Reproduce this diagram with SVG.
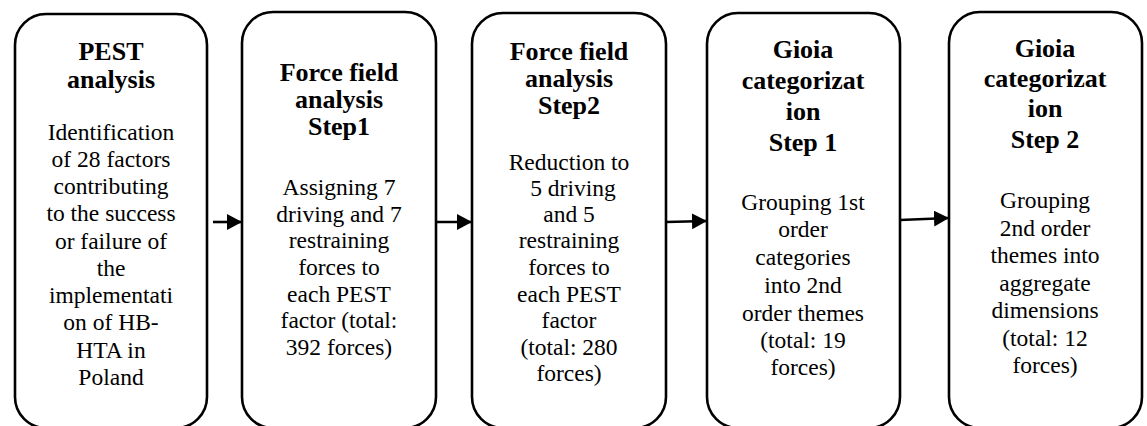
<svg xmlns="http://www.w3.org/2000/svg" width="1147" height="426" viewBox="0 0 1147 426">
<style>
.box{fill:#fff;stroke:#000;stroke-width:2.6}
.t{font-family:"Liberation Serif","Times New Roman",serif;font-weight:bold;font-size:26px;text-anchor:middle;fill:#000}
.b{font-family:"Liberation Serif","Times New Roman",serif;font-size:23.5px;text-anchor:middle;fill:#000}
.c{stroke:#000;stroke-width:2.6;fill:none}
</style>
<defs>
<marker id="ah" markerUnits="userSpaceOnUse" markerWidth="16" markerHeight="18" refX="15" refY="8" orient="auto">
<path d="M0,0 L15,8 L0,16 Z" fill="#000"/>
</marker>
</defs>
<rect width="1147" height="426" fill="#fff"/>
<g id="connectors">
<line class="c" x1="213" y1="222" x2="242" y2="222" marker-end="url(#ah)"/>
<line class="c" x1="437" y1="222" x2="472" y2="222" marker-end="url(#ah)"/>
<line class="c" x1="666" y1="222" x2="707" y2="221" marker-end="url(#ah)"/>
<line class="c" x1="900" y1="220" x2="949" y2="218" marker-end="url(#ah)"/>
</g>
<g id="node1">
<rect class="box" x="15" y="14" width="192" height="414" rx="31" ry="31"/>
<text class="t" x="111" y="60">PEST</text>
<text class="t" x="111" y="88">analysis</text>
<text class="b" x="111" y="140">Identification</text>
<text class="b" x="111" y="167">of 28 factors</text>
<text class="b" x="111" y="194">contributing</text>
<text class="b" x="111" y="221">to the success</text>
<text class="b" x="111" y="249">or failure of</text>
<text class="b" x="111" y="276">the</text>
<text class="b" x="111" y="303">implementati</text>
<text class="b" x="111" y="330">on of HB-</text>
<text class="b" x="111" y="358">HTA in</text>
<text class="b" x="111" y="385">Poland</text>
</g>
<g id="node2">
<rect class="box" x="242" y="12" width="194" height="416" rx="31" ry="31"/>
<text class="t" x="339" y="81">Force field</text>
<text class="t" x="339" y="108">analysis</text>
<text class="t" x="339" y="135">Step1</text>
<text class="b" x="339" y="195">Assigning 7</text>
<text class="b" x="339" y="222">driving and 7</text>
<text class="b" x="339" y="248">restraining</text>
<text class="b" x="339" y="275">forces to</text>
<text class="b" x="339" y="302">each PEST</text>
<text class="b" x="339" y="328">factor (total:</text>
<text class="b" x="339" y="355">392 forces)</text>
</g>
<g id="node3">
<rect class="box" x="472" y="13" width="194" height="415" rx="31" ry="31"/>
<text class="t" x="569" y="60">Force field</text>
<text class="t" x="569" y="87">analysis</text>
<text class="t" x="569" y="114">Step2</text>
<text class="b" x="569" y="170">Reduction to</text>
<text class="b" x="573" y="196">5 driving</text>
<text class="b" x="569" y="222">and 5</text>
<text class="b" x="569" y="248">restraining</text>
<text class="b" x="569" y="275">forces to</text>
<text class="b" x="569" y="302">each PEST</text>
<text class="b" x="569" y="328">factor</text>
<text class="b" x="569" y="355">(total: 280</text>
<text class="b" x="569" y="381">forces)</text>
</g>
<g id="node4">
<rect class="box" x="707" y="13" width="193" height="415" rx="31" ry="31"/>
<text class="t" x="803" y="58">Gioia</text>
<text class="t" x="803" y="89">categorizat</text>
<text class="t" x="803" y="120">ion</text>
<text class="t" x="803" y="151">Step 1</text>
<text class="b" x="803" y="210">Grouping 1st</text>
<text class="b" x="803" y="237">order</text>
<text class="b" x="803" y="265">categories</text>
<text class="b" x="803" y="293">into 2nd</text>
<text class="b" x="803" y="321">order themes</text>
<text class="b" x="803" y="348">(total: 19</text>
<text class="b" x="803" y="375">forces)</text>
</g>
<g id="node5">
<rect class="box" x="949" y="12" width="193" height="416" rx="31" ry="31"/>
<text class="t" x="1045" y="57">Gioia</text>
<text class="t" x="1045" y="87">categorizat</text>
<text class="t" x="1045" y="117">ion</text>
<text class="t" x="1045" y="148">Step 2</text>
<text class="b" x="1045" y="208">Grouping</text>
<text class="b" x="1045" y="236">2nd order</text>
<text class="b" x="1045" y="263">themes into</text>
<text class="b" x="1045" y="291">aggregate</text>
<text class="b" x="1045" y="318">dimensions</text>
<text class="b" x="1045" y="346">(total: 12</text>
<text class="b" x="1045" y="373">forces)</text>
</g>
</svg>
